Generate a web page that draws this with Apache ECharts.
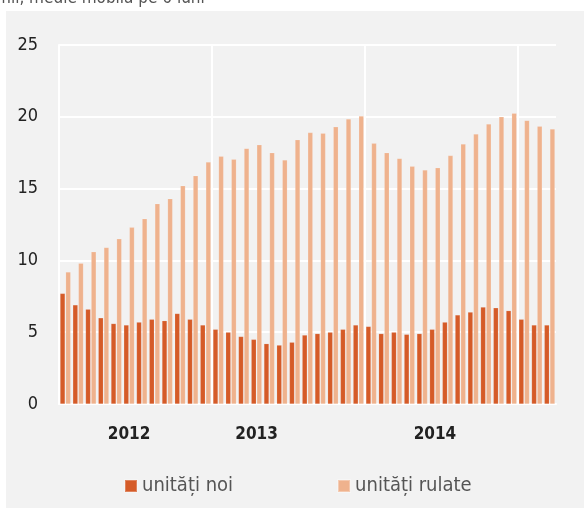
<!DOCTYPE html>
<html>
<head>
<meta charset="utf-8">
<script src="https://cdn.jsdelivr.net/npm/echarts@6/dist/echarts.min.js"></script>
<style>
  html, body { margin: 0; padding: 0; background: #fff; }
  #chart { width: 585px; height: 508px; }
</style>
</head>
<body>
<div id="chart"></div>
<script>
// luni (ian 2012 - mar 2015)
var luni = ['2012-01','2012-02','2012-03','2012-04','2012-05','2012-06','2012-07','2012-08','2012-09','2012-10','2012-11','2012-12',
            '2013-01','2013-02','2013-03','2013-04','2013-05','2013-06','2013-07','2013-08','2013-09','2013-10','2013-11','2013-12',
            '2014-01','2014-02','2014-03','2014-04','2014-05','2014-06','2014-07','2014-08','2014-09','2014-10','2014-11','2014-12',
            '2015-01','2015-02','2015-03'];
// etichete ani (pozitia lor pe axa)
var etichetaAni = {5: '2012', 15: '2013', 29: '2014'};
var yTicks = [0, 5, 10, 15, 20, 25];

// mil, medie mobila pe 6 luni
var unitatiNoi = [7.7, 6.9, 6.6, 6.0, 5.6, 5.5, 5.7, 5.9, 5.8, 6.3, 5.9, 5.5,
                  5.2, 5.0, 4.7, 4.5, 4.2, 4.1, 4.3, 4.8, 4.9, 5.0, 5.2, 5.5,
                  5.4, 4.9, 5.0, 4.85, 4.9, 5.2, 5.7, 6.2, 6.4, 6.75, 6.7, 6.5,
                  5.9, 5.5, 5.5];
var unitatiRulate = [9.2, 9.8, 10.6, 10.9, 11.5, 12.3, 12.9, 13.95, 14.3, 15.2, 15.9, 16.85,
                     17.25, 17.05, 17.8, 18.05, 17.5, 17.0, 18.4, 18.9, 18.85, 19.3, 19.85, 20.05,
                     18.15, 17.5, 17.1, 16.55, 16.3, 16.45, 17.3, 18.1, 18.8, 19.5, 20.0, 20.25,
                     19.75, 19.35, 19.15];

var font = "'Liberation Sans Narrow', 'DejaVu Sans Condensed', 'Open Sans', sans-serif";

var option = {
    backgroundColor: '#fff',
    animation: false,
    graphic: [
        { type: 'rect', z: -10, shape: { x: 6, y: 11, width: 578, height: 500 }, style: { fill: '#f2f2f2' } },
        { type: 'text', left: -4, top: -10, style: { text: 'mil, medie mobilă pe 6 luni', font: '17px ' + font, fill: '#555' } }
    ],
    legend: {
        bottom: 7,
        left: 119,
        icon: 'rect',
        itemWidth: 12,
        itemHeight: 12,
        itemGap: 104,
        textStyle: { color: '#555', fontSize: 20, fontFamily: font },
        data: ['unități noi', 'unități rulate']
    },
    grid: { left: 59, right: 29, top: 45, bottom: 104, containLabel: false },
    xAxis: {
        type: 'category',
        data: luni,
        axisLine: { show: true, lineStyle: { color: '#fff', width: 2 } },
        axisTick: { show: false },
        axisLabel: {
            interval: 0,
            margin: 22,
            color: '#222',
            fontSize: 17,
            fontWeight: 'bold',
            fontFamily: font,
            formatter: function (v, i) { return etichetaAni[i] || ''; }
        },
        splitLine: {
            show: true,
            showMaxLine: false,
            interval: function (i) { return i % 12 === 0; },
            lineStyle: { color: '#fff', width: 2 }
        }
    },
    yAxis: {
        type: 'value',
        min: yTicks[0],
        max: yTicks[yTicks.length - 1],
        interval: 5,
        axisLine: { show: true, lineStyle: { color: '#fff', width: 2 } },
        axisTick: { show: false },
        axisLabel: { margin: 21, color: '#222', fontSize: 18, fontFamily: font },
        splitLine: { lineStyle: { color: '#fff', width: 2 } }
    },
    series: [{
        name: 'unități noi',
        type: 'bar',
        barWidth: 5,
        barGap: '12%',
        itemStyle: { color: '#d55b28', borderColor: 'rgba(255,255,255,0.25)', borderWidth: 0.5 },
        data: unitatiNoi
    }, {
        name: 'unități rulate',
        type: 'bar',
        barWidth: 5,
        itemStyle: { color: '#efb28d', borderColor: 'rgba(255,255,255,0.3)', borderWidth: 0.5 },
        data: unitatiRulate
    }]
};

var chart = echarts.init(document.getElementById('chart'));
chart.setOption(option);
</script>
</body>
</html>
